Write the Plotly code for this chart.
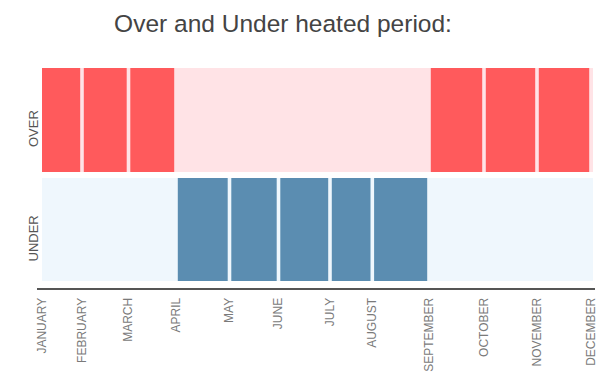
import plotly.graph_objects as go

# ---- data ----
months = ["JANUARY", "FEBRUARY", "MARCH", "APRIL", "MAY", "JUNE", "JULY",
          "AUGUST", "SEPTEMBER", "OCTOBER", "NOVEMBER", "DECEMBER"]
# boundaries of the periods along the time axis (arbitrary units)
period_edges = [0, 40, 86.5, 134, 187.5, 236.5, 288, 330.3, 387, 442, 495, 549]
# state of each period between two consecutive boundaries
period_state = ["OVER", "OVER", "OVER", "UNDER", "UNDER", "UNDER", "UNDER",
                "UNDER", "OVER", "OVER", "OVER"]
rows = ["OVER", "UNDER"]

# ---- styling / layout constants ----
# the page body adds an 8px margin, so the figure is drawn 8px smaller
W, H = 598, 365
M_L, M_R, M_T, M_B = 29, 11, 60, 85
GAP = 3.6
BAND = {"OVER": (116, 104), "UNDER": (7, 103)}  # base, height in y units
BAND_COLOR = {"OVER": "#ffe3e6", "UNDER": "#eff7fd"}
BAR_COLOR = {"OVER": "#ff5a5c", "UNDER": "#5b8db1"}
X_END = period_edges[-1] + 2

fig = go.Figure()

# background bands
for r in rows:
    base, h = BAND[r]
    fig.add_trace(go.Bar(
        x=[X_END / 2], y=[h], base=[base], width=[X_END],
        marker=dict(color=BAND_COLOR[r], line=dict(width=0)),
        hoverinfo="skip", showlegend=False))

# period bars
for r in rows:
    xs, ws = [], []
    for i, s in enumerate(period_state):
        if s == r:
            a, b = period_edges[i], period_edges[i + 1]
            left = a + (GAP / 2 if i > 0 else 0)
            right = b - GAP / 2
            xs.append((left + right) / 2)
            ws.append(right - left)
    base, h = BAND[r]
    fig.add_trace(go.Bar(
        x=xs, y=[h] * len(xs), base=[base] * len(xs), width=ws,
        marker=dict(color=BAR_COLOR[r], line=dict(width=0)),
        name=r, showlegend=False))

fig.update_layout(
    width=W, height=H,
    margin=dict(l=M_L, r=M_R, t=M_T, b=M_B, autoexpand=False),
    paper_bgcolor="white", plot_bgcolor="white",
    barmode="overlay",
    font=dict(family="Liberation Sans, Arial, sans-serif", color="#555"),
    title=dict(text="Over and Under heated period:",
               x=275 / W, xref="container", xanchor="center",
               y=1 - 15 / H, yanchor="middle",
               font=dict(size=24.5, color="#444")),
    xaxis=dict(range=[-5, period_edges[-1] + 4], tickmode="array",
               tickvals=period_edges, ticktext=months, tickangle=-90,
               tickfont=dict(size=12, color="#7a7a7a"), ticks="",
               ticklabelstandoff=3,
               showgrid=False, zeroline=False,
               showline=True, linecolor="#555", linewidth=2),
    yaxis=dict(range=[0, 220], showgrid=False, zeroline=False,
               showticklabels=False, showline=False),
    annotations=[
        dict(text=r, x=-4 / (W - M_L - M_R), xref="paper",
             y=BAND[r][0] + BAND[r][1] / 2 - 9, yref="y",
             textangle=-90, showarrow=False, xanchor="center", yanchor="middle",
             font=dict(size=13, color="#555"))
        for r in rows
    ],
)

fig.write_html("out.html")
